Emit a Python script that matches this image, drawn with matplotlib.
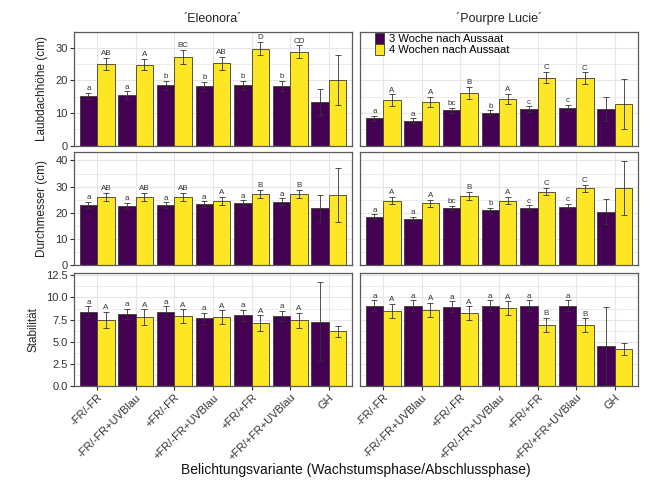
"""Balkendiagramm: Laubdachhöhe, Durchmesser und Stabilität je Belichtungsvariante."""

import matplotlib
matplotlib.use("Agg")
import matplotlib.pyplot as plt
import numpy as np

plt.rcParams["font.family"] = ["Liberation Sans", "DejaVu Sans"]

varianten = ["-FR/-FR", "-FR/-FR+UVBlau", "+FR/-FR", "+FR/-FR+UVBlau",
             "+FR/+FR", "+FR/+FR+UVBlau", "GH"]
sorten = ["´Eleonora´", "´Pourpre Lucie´"]
serien = ["3 Woche nach Aussaat", "4 Wochen nach Aussaat"]

# Laubdachhöhe (cm)
hoehe_w3 = {"Eleonora": [15.2, 15.4, 18.4, 18.1, 18.4, 18.2, 13.4],
            "Lucie": [8.3, 7.6, 10.8, 10.1, 11.2, 11.5, 11.2]}
hoehe_w3_err = {"Eleonora": [1.0, 1.2, 1.5, 1.5, 1.4, 1.6, 3.9],
                "Lucie": [0.7, 0.7, 0.8, 0.7, 0.8, 0.9, 3.7]}
hoehe_w4 = {"Eleonora": [25.0, 24.8, 27.2, 25.2, 29.7, 28.7, 20.0],
            "Lucie": [13.9, 13.3, 16.2, 14.3, 20.8, 20.7, 12.8]}
hoehe_w4_err = {"Eleonora": [1.9, 1.7, 2.1, 2.0, 2.1, 2.0, 7.7],
                "Lucie": [1.8, 1.6, 1.8, 1.6, 1.7, 1.7, 7.6]}
hoehe_bu_w3 = {"Eleonora": ["a", "a", "b", "b", "b", "b", ""],
               "Lucie": ["a", "a", "bc", "b", "c", "c", ""]}
hoehe_bu_w4 = {"Eleonora": ["AB", "A", "BC", "AB", "D", "CD", ""],
               "Lucie": ["A", "A", "B", "A", "C", "C", ""]}

# Durchmesser (cm)
durch_w3 = {"Eleonora": [23.0, 22.7, 22.9, 23.3, 23.7, 24.3, 21.7],
            "Lucie": [18.6, 17.8, 21.9, 21.0, 22.0, 22.4, 20.4]}
durch_w3_err = {"Eleonora": [1.2, 1.1, 1.1, 1.1, 1.1, 1.2, 5.1],
                "Lucie": [0.8, 0.8, 0.9, 0.9, 0.9, 1.0, 4.8]}
durch_w4 = {"Eleonora": [26.1, 26.0, 26.0, 24.5, 27.1, 27.1, 26.8],
            "Lucie": [24.6, 23.6, 26.4, 24.7, 28.1, 29.4, 29.4]}
durch_w4_err = {"Eleonora": [1.6, 1.6, 1.6, 1.6, 1.6, 1.6, 10.2],
                "Lucie": [1.4, 1.4, 1.5, 1.4, 1.4, 1.4, 10.2]}
durch_bu_w3 = {"Eleonora": ["a", "a", "a", "a", "a", "a", ""],
               "Lucie": ["a", "a", "bc", "b", "c", "c", ""]}
durch_bu_w4 = {"Eleonora": ["AB", "AB", "AB", "A", "B", "B", ""],
               "Lucie": ["A", "A", "B", "A", "C", "C", ""]}

# Stabilität
stab_w3 = {"Eleonora": [8.39, 8.13, 8.39, 7.64, 7.98, 7.90, 7.26],
           "Lucie": [9.07, 9.07, 8.96, 9.07, 9.07, 9.07, 4.52]}
stab_w3_err = {"Eleonora": [0.6, 0.6, 0.6, 0.6, 0.6, 0.6, 4.45],
               "Lucie": [0.6, 0.6, 0.6, 0.6, 0.6, 0.6, 4.4]}
stab_w4 = {"Eleonora": [7.49, 7.79, 7.87, 7.75, 7.11, 7.41, 6.17],
           "Lucie": [8.47, 8.62, 8.21, 8.77, 6.93, 6.85, 4.14]}
stab_w4_err = {"Eleonora": [0.9, 0.87, 0.8, 0.8, 0.87, 0.87, 0.6],
               "Lucie": [0.8, 0.8, 0.8, 0.8, 0.8, 0.8, 0.68]}
stab_bu_w3 = {"Eleonora": ["a", "a", "a", "a", "a", "a", ""],
              "Lucie": ["a", "a", "a", "a", "a", "a", ""]}
stab_bu_w4 = {"Eleonora": ["A", "A", "A", "A", "A", "A", ""],
              "Lucie": ["A", "A", "A", "A", "B", "B", ""]}

merkmale = [
    ("Laubdachhöhe (cm)", hoehe_w3, hoehe_w3_err, hoehe_w4, hoehe_w4_err,
     hoehe_bu_w3, hoehe_bu_w4, 34.8, [0, 10, 20, 30], 5, "{:.0f}"),
    ("Durchmesser (cm)", durch_w3, durch_w3_err, durch_w4, durch_w4_err,
     durch_bu_w3, durch_bu_w4, 43.2, [0, 10, 20, 30, 40], 5, "{:.0f}"),
    ("Stabilität", stab_w3, stab_w3_err, stab_w4, stab_w4_err,
     stab_bu_w3, stab_bu_w4, 12.76, [0, 2.5, 5, 7.5, 10, 12.5], 1.25, "{:.1f}"),
]

FARBEN = ["#440154", "#FDE725"]
KANTE = "#3d3d2b"
GRID = "#e6e6e6"
RAHMEN = "#5a5a5a"
W, H = 646, 484

fig = plt.figure(figsize=(W / 100, H / 100), dpi=100)

spalten_x = [(74, 352), (360, 638)]
zeilen_y = [(32, 145.5), (152, 265.3), (273, 386)]
x = np.arange(1, len(varianten) + 1)
bw = 0.45

for r, (ylab, w3, w3e, w4, w4e, bu3, bu4, ymax, yticks, minor, fmt) in enumerate(merkmale):
    for c, sorte in enumerate(["Eleonora", "Lucie"]):
        x0, x1 = spalten_x[c]
        y0, y1 = zeilen_y[r]
        ax = fig.add_axes([x0 / W, 1 - y1 / H, (x1 - x0) / W, (y1 - y0) / H])
        ax.set_xlim(0.4, len(varianten) + 0.6)
        ax.set_ylim(0, ymax)

        # grid (theme_bw-like)
        for yy in np.arange(0, ymax, minor):
            ax.axhline(yy, color=GRID, lw=0.5 if (yy / minor) % 2 else 0.8, zorder=0)
        for xx in x:
            ax.axvline(xx, color=GRID, lw=0.8, zorder=0)

        for k, (vals, errs, bus) in enumerate([(w3, w3e, bu3), (w4, w4e, bu4)]):
            pos = x + (k - 0.5) * bw
            v = np.array(vals[sorte])
            e = np.array(errs[sorte])
            ax.bar(pos, v, width=bw, color=FARBEN[k], edgecolor=KANTE, lw=0.6,
                   zorder=2, label=serien[k])
            ax.errorbar(pos, v, yerr=e, fmt="none", ecolor="#333333",
                        elinewidth=0.6, capsize=2, capthick=0.6, zorder=3)
            for p, top, txt in zip(pos, v + e, bus[sorte]):
                if txt:
                    ax.annotate(txt, (p, top), xytext=(0, 0.5), textcoords="offset points",
                                ha="center", va="bottom", fontsize=5.8, color="#333333",
                                zorder=4)

        for sp in ax.spines.values():
            sp.set_color(RAHMEN)
            sp.set_linewidth(0.9)
        ax.tick_params(colors="#333333", labelcolor="#333333", width=0.8, length=3,
                       labelsize=8, pad=1.5)
        ax.set_yticks(yticks)
        if c == 0:
            ax.set_yticklabels([fmt.format(t) for t in yticks])
            ax.set_ylabel(ylab, fontsize=8.5, color="#222222", labelpad=5)
        else:
            ax.set_yticklabels([])
            ax.tick_params(axis="y", length=0)
        ax.set_xticks(x)
        if r == 2:
            ax.set_xticklabels(varianten, rotation=45, ha="right",
                               rotation_mode="anchor", fontsize=8)
        else:
            ax.set_xticklabels([])
            ax.tick_params(axis="x", length=0)
        if r == 0:
            ax.set_title(sorten[c], fontsize=9, color="#222222", pad=7)
            if c == 1:
                ax.legend(loc="upper left", bbox_to_anchor=(0.03, 1.05), frameon=False,
                          fontsize=8, handlelength=0.8, handleheight=1.1,
                          handletextpad=0.5, labelspacing=0.0, borderaxespad=0.2)

fig.text((74 + 638) / 2 / W, 1 - 470 / H,
         "Belichtungsvariante (Wachstumsphase/Abschlussphase)",
         ha="center", va="center", fontsize=10, color="#111111")

fig.savefig("out.png", dpi=100)
